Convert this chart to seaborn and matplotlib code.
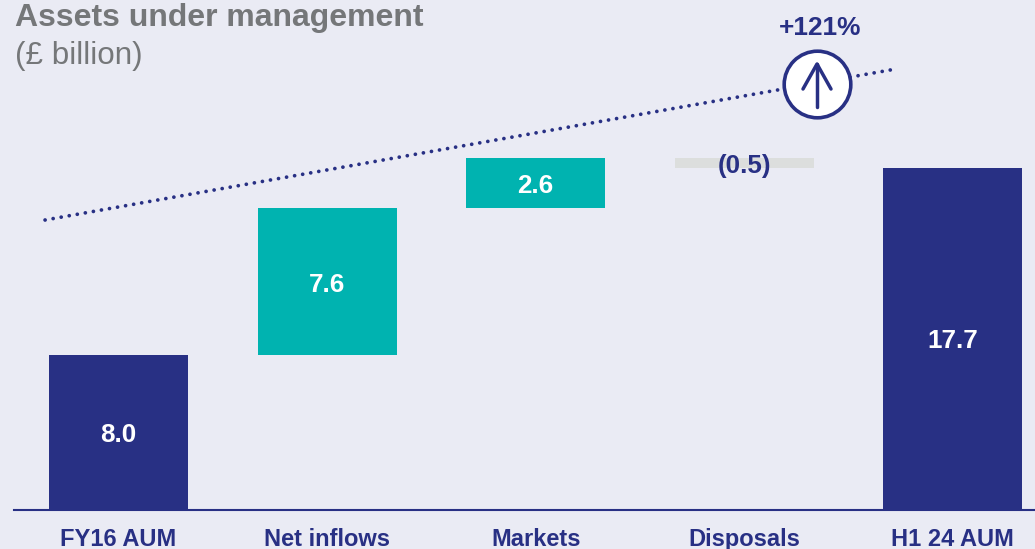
# waterfall of assets under management, FY16 to H1 24
import seaborn as sns
import matplotlib.pyplot as plt

categories = ['FY16 AUM', 'Net inflows', 'Markets', 'Disposals', 'H1 24 AUM']
heights = [8.0, 7.6, 2.6, 0.5, 17.7]
bottoms = [0, 8.0, 15.6, 17.7, 0]
value_labels = ['8.0', '7.6', '2.6', '(0.5)', '17.7']
label_colors = ['white', 'white', 'white', '#283084', 'white']
bar_colors = ['#283084', '#00B3B0', '#00B3B0', '#DCDEDD', '#283084']

# dotted trend line
trend_x = [-0.352, 3.735]
trend_y = [15.0, 22.84]

bg = '#EAEBF4'
navy = '#283084'
grey = '#757779'

sns.set_theme(style='white', rc={'figure.figsize': (10.35, 5.49), 'figure.dpi': 100})
plt.rcParams['font.family'] = ['Liberation Sans', 'DejaVu Sans']

W, H = 1035, 549
BASE = 509.5
PX_X = 208.6
PX_Y = 19.3


def xd(px):
    return (px - 118.5) / PX_X


def yd(py):
    return (BASE - py) / PX_Y


fig = plt.figure(facecolor=bg)
ax = fig.add_axes([14 / W, 1 - BASE / H, 1 - 14 / W, BASE / H], facecolor=bg)

sns.barplot(x=categories, y=heights, hue=categories, palette=bar_colors,
            width=0.667, saturation=1, legend=False, linewidth=0, ax=ax)
# floating bars of the waterfall
for cont, b, lab, col in zip(ax.containers, bottoms, value_labels, label_colors):
    for p in cont:
        p.set_y(b)
        p.set_edgecolor('none')
    ax.bar_label(cont, labels=[lab], label_type='center', color=col,
                 fontsize=18.7, fontweight='bold', padding=-2)

ax.set_xlim(xd(14), xd(W))
ax.set_ylim(0, yd(0))

sns.lineplot(x=trend_x, y=trend_y, color=navy, lw=2.7, ax=ax,
             linestyle=(0, (0.01, 2.17)), dash_capstyle='round')

# circle with up arrow
ax.scatter([xd(817)], [yd(84)], s=2300, facecolor='white', edgecolor=navy,
           linewidth=2.6, zorder=5)
ax.plot([xd(817), xd(817)], [yd(107), yd(64)], color=navy, lw=2.5, zorder=6)
ax.plot([xd(803), xd(817), xd(831)], [yd(89), yd(64), yd(89)], color=navy, lw=2.5,
        zorder=6, solid_capstyle='round', solid_joinstyle='round')
ax.text(xd(820), yd(28), '+121%', color=navy, fontsize=18.9, fontweight='bold',
        ha='center', va='center')

fig.text(15 / W, 1 - 18 / H, 'Assets under management', color=grey, fontsize=23,
         fontweight='bold', ha='left', va='center')
fig.text(15 / W, 1 - 56 / H, '(£ billion)', color=grey, fontsize=22.6,
         ha='left', va='center')

sns.despine(ax=ax, left=True, top=True, right=True)
ax.spines['bottom'].set_color(navy)
ax.spines['bottom'].set_linewidth(1.5)
ax.set_yticks([])
ax.tick_params(axis='x', length=0, pad=13)
ax.set_xticks(range(5), categories, color=navy, fontsize=17, fontweight='bold')
ax.set_xlabel('')
ax.set_ylabel('')

fig.savefig('out.png', dpi=100, facecolor=bg)
